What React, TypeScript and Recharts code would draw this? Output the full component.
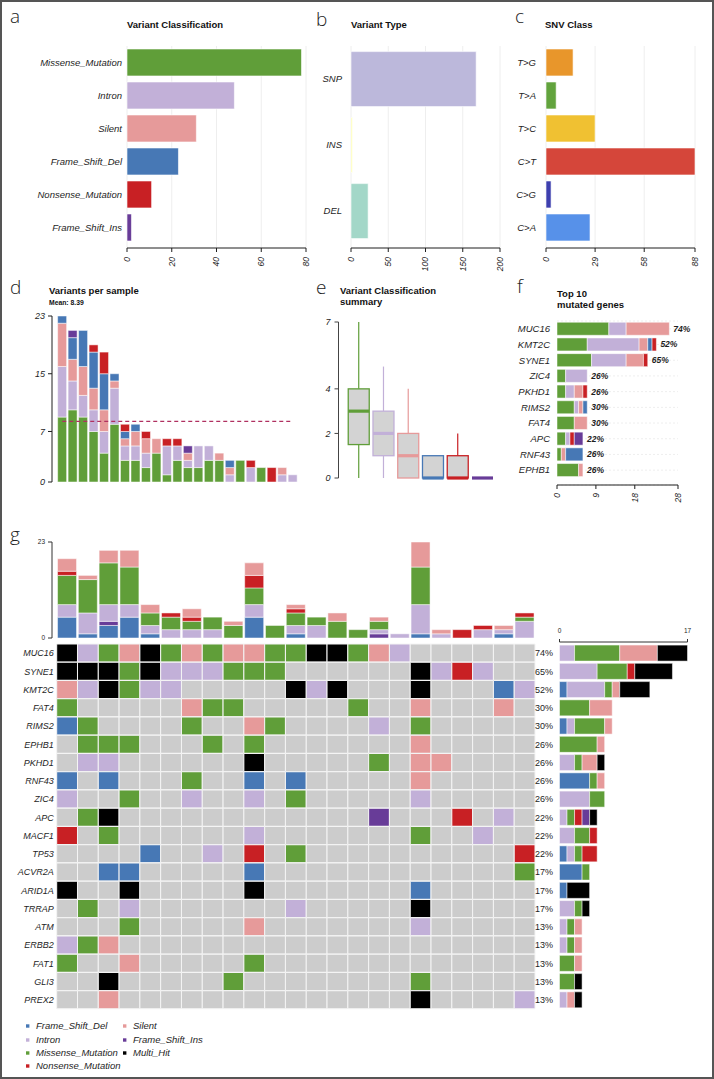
import React from 'react';
import { BarChart, Bar, XAxis, YAxis, Cell, CartesianGrid, ReferenceLine, LabelList } from 'recharts';

const FONT = '"Liberation Sans", Arial, Helvetica, sans-serif';
const INK = '#1e1e1e';

// classification colours (maftools style)
const CLASS_COLORS: Record<string, string> = {
  Frame_Shift_Del: '#4778B5',
  Intron: '#C2B0D8',
  Missense_Mutation: '#609E39',
  Nonsense_Mutation: '#C82024',
  Silent: '#E69A9A',
  Frame_Shift_Ins: '#683C98',
  Multi_Hit: '#000000',
};
const EMPTY_CELL = '#CCCCCC';

// ---- per-sample variant counts (samples in oncoplot column order) ----
const sampleIds = ['S01', 'S02', 'S03', 'S04', 'S05', 'S06', 'S07', 'S08', 'S09', 'S10', 'S11', 'S12',
  'S13', 'S14', 'S15', 'S16', 'S17', 'S18', 'S19', 'S20', 'S21', 'S22', 'S23'];
const frameShiftDel = [5, 1, 3, 5, 1, 0, 0, 0, 0, 5, 0, 1, 0, 0, 0, 0, 0, 1, 0, 0, 0, 1, 0];
const frameShiftIns = [0, 0, 1, 0, 0, 0, 0, 0, 0, 0, 0, 0, 0, 0, 0, 1, 0, 0, 0, 0, 0, 0, 0];
const intron = [3, 5, 4, 3, 2, 2, 2, 2, 0, 3, 0, 2, 3, 0, 0, 1, 1, 7, 1, 0, 2, 1, 4];
const missense = [7, 8, 10, 9, 3, 3, 2, 3, 3, 4, 3, 3, 2, 4, 2, 2, 0, 9, 0, 0, 0, 0, 1];
const nonsense = [1, 0, 0, 0, 0, 1, 1, 0, 0, 3, 0, 1, 0, 0, 0, 0, 0, 0, 0, 2, 1, 0, 1];
const silent = [3, 1, 3, 4, 2, 0, 2, 0, 1, 3, 0, 1, 0, 2, 0, 1, 0, 6, 1, 0, 0, 1, 0];

// sample order of the "Variants per sample" panel
const perSampleOrder = ['S18', 'S03', 'S04', 'S01', 'S10', 'S02', 'S12', 'S05', 'S07', 'S14', 'S23', 'S06',
  'S16', 'S13', 'S08', 'S09', 'S22', 'S11', 'S21', 'S15', 'S20', 'S19', 'S17'];

// ---- variant type / SNV class ----
const variantTypes = ['SNP', 'INS', 'DEL'];
const variantTypeCounts = [168, 2, 23];
const variantTypeColors = ['#BCB8DB', '#FFFFB3', '#A3D7C8'];

const snvClasses = ['T>G', 'T>A', 'T>C', 'C>T', 'C>G', 'C>A'];
const snvCounts = [16, 6, 29, 88, 3, 26];
const snvColors = ['#E8962B', '#62A33D', '#F0C132', '#D5463A', '#3D3FAE', '#5791E9'];

// ---- variant classification summary (box stats) ----
const boxClasses = ['Missense_Mutation', 'Intron', 'Silent', 'Frame_Shift_Del', 'Nonsense_Mutation', 'Frame_Shift_Ins'];
const boxMin = [0, 0, 0, 0, 0, 0];
const boxQ1 = [1.5, 1, 0, 0, 0, 0];
const boxMedian = [3, 2, 1, 0, 0, 0];
const boxQ3 = [4, 3, 2, 1, 1, 0];
const boxMax = [7, 5, 4, 1, 2, 0];

// ---- top 10 mutated genes (variant counts) ----
const topGenes = ['MUC16', 'KMT2C', 'SYNE1', 'ZIC4', 'PKHD1', 'RIMS2', 'FAT4', 'APC', 'RNF43', 'EPHB1'];
const topMissense = [12, 7, 8, 2, 2, 4, 4, 2, 1, 5];
const topIntron = [4, 12, 8, 5, 2, 1, 0, 1, 0, 0];
const topSilent = [10, 2, 4, 0, 2, 1, 3, 0, 1, 1];
const topFrameShiftDel = [0, 1, 0, 0, 0, 1, 0, 0, 4, 0];
const topNonsense = [0, 1, 1, 0, 1, 0, 0, 1, 0, 0];
const topFrameShiftIns = [0, 0, 0, 0, 0, 0, 0, 2, 0, 0];

// ---- oncoplot ----
// B=Frame_Shift_Del L=Intron G=Missense R=Nonsense P=Silent I=Frame_Shift_Ins K=Multi_Hit .=none
const CODE: Record<string, string> = {
  B: 'Frame_Shift_Del', L: 'Intron', G: 'Missense_Mutation', R: 'Nonsense_Mutation',
  P: 'Silent', I: 'Frame_Shift_Ins', K: 'Multi_Hit',
};
const oncoGenes = ['MUC16', 'SYNE1', 'KMT2C', 'FAT4', 'RIMS2', 'EPHB1', 'PKHD1', 'RNF43', 'ZIC4', 'APC',
  'MACF1', 'TP53', 'ACVR2A', 'ARID1A', 'TRRAP', 'ATM', 'ERBB2', 'FAT1', 'GLI3', 'PREX2'];
const oncoRows = [
  'KLGPKGPGPPGGKKGPL......',
  'KKKGKLLLGGG......KLRL..',
  'PLKGLL.....KLK...K...BL',
  'G.....PGG.....G..P...P.',
  'BG....G..PG....L.G.....',
  '.GGG...G.G.......P.....',
  '.LL......K.....G.PP....',
  'B.B...G..B.B.....P.....',
  'L..G..L..L.G.....L.....',
  '.GK............I...R.L.',
  'R.G......L.......G..L..',
  '....B..L.R.G..........R',
  '..BB.....B............G',
  'K..K.....K.......B.....',
  '.G.L.......L.....K.....',
  '...G.....P.......L.....',
  'LGP....................',
  'G..P.....G.............',
  '..K.....G........G.....',
  '..P..............K....L',
];

const legendLeft = ['Frame_Shift_Del', 'Intron', 'Missense_Mutation', 'Nonsense_Mutation'];
const legendRight = ['Silent', 'Frame_Shift_Ins', 'Multi_Hit'];

// ---------------- derived tables ----------------
const sampleData = sampleIds.map((id, i) => ({
  id,
  Frame_Shift_Del: frameShiftDel[i],
  Frame_Shift_Ins: frameShiftIns[i],
  Intron: intron[i],
  Missense_Mutation: missense[i],
  Nonsense_Mutation: nonsense[i],
  Silent: silent[i],
}));
const sum = (a: number[]) => a.reduce((s, v) => s + v, 0);
const totalVariants = sampleData.map((d) =>
  d.Frame_Shift_Del + d.Frame_Shift_Ins + d.Intron + d.Missense_Mutation + d.Nonsense_Mutation + d.Silent);
const meanVariants = sum(totalVariants) / sampleIds.length;

const classTotals = [
  { name: 'Missense_Mutation', value: sum(missense) },
  { name: 'Intron', value: sum(intron) },
  { name: 'Silent', value: sum(silent) },
  { name: 'Frame_Shift_Del', value: sum(frameShiftDel) },
  { name: 'Nonsense_Mutation', value: sum(nonsense) },
  { name: 'Frame_Shift_Ins', value: sum(frameShiftIns) },
].sort((a, b) => b.value - a.value);

const typeData = variantTypes.map((name, i) => ({ name, value: variantTypeCounts[i], color: variantTypeColors[i] }));
const snvData = snvClasses.map((name, i) => ({ name, value: snvCounts[i], color: snvColors[i] }));
const perSampleData = perSampleOrder.map((id) => sampleData.find((d) => d.id === id));

const boxData = boxClasses.map((name, i) => ({
  name, range: [boxMin[i], boxMax[i]], min: boxMin[i], max: boxMax[i],
  q1: boxQ1[i], med: boxMedian[i], q3: boxQ3[i], color: CLASS_COLORS[name],
}));

const mutatedSamples = (gene: string) => {
  const row = oncoRows[oncoGenes.indexOf(gene)];
  return row.split('').filter((c) => c !== '.').length;
};
const pctOf = (gene: string) => `${Math.round((mutatedSamples(gene) / sampleIds.length) * 100)}%`;

const TOP_KEYS = ['Missense_Mutation', 'Intron', 'Silent', 'Frame_Shift_Del', 'Nonsense_Mutation', 'Frame_Shift_Ins'];
const topData = topGenes.map((gene, i) => ({
  gene,
  pct: pctOf(gene),
  Missense_Mutation: topMissense[i],
  Intron: topIntron[i],
  Silent: topSilent[i],
  Frame_Shift_Del: topFrameShiftDel[i],
  Nonsense_Mutation: topNonsense[i],
  Frame_Shift_Ins: topFrameShiftIns[i],
}));
const lastTopKey = (d: any) => TOP_KEYS.filter((k) => d[k] > 0).pop();

const gridData = oncoGenes.map((gene) => {
  const o: any = { gene };
  sampleIds.forEach((s) => { o[s] = 1; });
  return o;
});
const GENE_KEYS = ['Frame_Shift_Del', 'Intron', 'Missense_Mutation', 'Nonsense_Mutation', 'Silent', 'Frame_Shift_Ins', 'Multi_Hit'];
const geneBarData = oncoGenes.map((gene, gi) => {
  const o: any = { gene };
  GENE_KEYS.forEach((k) => { o[k] = 0; });
  oncoRows[gi].split('').forEach((c) => { if (c !== '.') o[CODE[c]] += 1; });
  return o;
});

// ---------------- ticks ----------------
function RotTick(props: any) {
  const { x, y, payload } = props;
  return (
    <text x={x} y={y} transform={`rotate(-90 ${x} ${y})`} textAnchor="end" dy="0.33em"
      fontSize={8.5} fontStyle="italic" fill={INK} fontFamily={FONT}>{payload.value}</text>
  );
}
function CatTick(props: any) {
  const { x, y, payload, fs = 9.5 } = props;
  return (
    <text x={x} y={y} textAnchor="end" dy="0.35em" fontSize={fs} fontStyle="italic" fill={INK} fontFamily={FONT}>
      {payload.value}
    </text>
  );
}
function TinyTick(props: any) {
  const { x, y, payload, anchor = 'middle', dy = 0 } = props;
  return (
    <text x={x} y={y} dy={dy} textAnchor={anchor} fontSize={6.5} fill={INK} fontFamily={FONT}>{payload.value}</text>
  );
}
function PctTick(props: any) {
  const { x, y, payload } = props;
  return (
    <text x={x} y={y} dy="0.35em" textAnchor="end" fontSize={9} fill={INK} fontFamily={FONT}>{pctOf(payload.value)}</text>
  );
}
function PctLabel(props: any) {
  const { value } = props;
  if (!value) return null;
  const vb = props.viewBox || props;
  return (
    <text x={vb.x + vb.width + 4} y={vb.y + vb.height / 2} dy="0.35em" fontSize={8.5} fontWeight="bold"
      fontStyle="italic" fill={INK} fontFamily={FONT}>{value}</text>
  );
}

function BoxShape(props: any) {
  const { x, y, width, height, payload } = props;
  const top = Math.min(y, y + height);
  const bottom = Math.max(y, y + height);
  const lo = payload.min;
  const hi = payload.max;
  const toY = (v: number) => (hi === lo ? bottom : top + ((bottom - top) * (hi - v)) / (hi - lo));
  const c = payload.color;
  const cx = x + width / 2;
  const yq1 = toY(payload.q1);
  const yq3 = toY(payload.q3);
  const ym = toY(payload.med);
  return (
    <g>
      <line x1={cx} x2={cx} y1={toY(hi)} y2={yq3} stroke={c} strokeWidth={1.2} />
      <line x1={cx} x2={cx} y1={yq1} y2={toY(lo)} stroke={c} strokeWidth={1.2} />
      {yq1 - yq3 > 0 && (
        <rect x={x} y={yq3} width={width} height={yq1 - yq3} fill="#D3D3D3" stroke={c} strokeWidth={1.3} />
      )}
      <line x1={x} x2={x + width} y1={ym} y2={ym} stroke={c} strokeWidth={3.2} />
    </g>
  );
}

const at = (left: number, top: number) => ({ position: 'absolute' as const, left, top });

function HBarPanel({ left, width, data, domain, ticks, yWidth, right, labelGap, gap }: any) {
  return (
    <div style={at(left, 0)}>
      <BarChart width={width} height={280} data={data} layout="vertical"
        margin={{ top: 46, right, bottom: 0, left: 0 }} barCategoryGap={gap}>
        <CartesianGrid horizontal={false} stroke="#eeeeee" />
        <XAxis type="number" domain={domain} ticks={ticks} interval={0} height={32} tickSize={4} tickMargin={5}
          stroke={INK} tick={<RotTick />} />
        <YAxis type="category" dataKey="name" width={yWidth} axisLine={false} tickLine={false} tickSize={0}
          tickMargin={labelGap} interval={0} padding={{ top: 0, bottom: 4 }} tick={<CatTick />} />
        <Bar dataKey="value" isAnimationActive={false} stroke="#fff" strokeWidth={0.6}>
          {data.map((d: any) => <Cell key={d.name} fill={d.color || CLASS_COLORS[d.name]} />)}
        </Bar>
      </BarChart>
    </div>
  );
}

function PerSamplePanel() {
  const keys = ['Missense_Mutation', 'Intron', 'Silent', 'Frame_Shift_Del', 'Nonsense_Mutation', 'Frame_Shift_Ins'];
  return (
    <div style={at(0, 283)}>
      <BarChart width={310} height={210} data={perSampleData} margin={{ top: 33, right: 12, bottom: 11, left: 0 }}
        barCategoryGap="6%">
        <XAxis dataKey="id" hide padding={{ left: 5, right: 0 }} />
        <YAxis type="number" domain={[0, 23]} ticks={[0, 7, 15, 23]} interval={0} width={52} tickSize={4}
          tickMargin={3} stroke={INK} tick={<CatTick fs={9} />} />
        {keys.map((k) => (
          <Bar key={k} dataKey={k} stackId="v" fill={CLASS_COLORS[k]} stroke="#fff" strokeWidth={0.5}
            isAnimationActive={false} />
        ))}
        <ReferenceLine stroke="#B03060" strokeDasharray="4 3" strokeWidth={1.2}
          segment={[{ x: perSampleOrder[0], y: meanVariants }, { x: perSampleOrder[perSampleOrder.length - 1], y: meanVariants }]} />
      </BarChart>
    </div>
  );
}

function SummaryPanel() {
  return (
    <div style={at(310, 283)}>
      <BarChart width={200} height={210} data={boxData} margin={{ top: 39, right: 15, bottom: 15, left: 0 }}
        barCategoryGap="7%">
        <XAxis dataKey="name" hide padding={{ left: 8, right: 0 }} />
        <YAxis type="number" domain={[0, 7]} ticks={[0, 2, 4, 7]} interval={0} width={28.5} tickSize={4}
          tickMargin={4} stroke="#444" tick={<CatTick fs={9} />} />
        <Bar dataKey="range" isAnimationActive={false} shape={<BoxShape />} />
      </BarChart>
    </div>
  );
}

function TopGenesPanel() {
  return (
    <div style={at(510, 283)}>
      <BarChart width={204} height={225} data={topData} layout="vertical"
        margin={{ top: 38, right: 36, bottom: 5, left: 0 }} barCategoryGap="8%">
        <CartesianGrid vertical={false} stroke="#eeeeee" strokeDasharray="2 2" />
        <XAxis type="number" domain={[0, 28]} ticks={[0, 9, 18, 28]} interval={0} height={18} tickSize={4}
          tickMargin={4} stroke={INK} tick={<RotTick />} />
        <YAxis type="category" dataKey="gene" width={47} axisLine={false} tickLine={false} tickSize={0}
          tickMargin={7} interval={0} padding={{ top: 0, bottom: 7 }} tick={<CatTick fs={9.5} />} />
        {TOP_KEYS.map((k) => (
          <Bar key={k} dataKey={k} stackId="t" fill={CLASS_COLORS[k]} stroke="#fff" strokeWidth={0.5}
            isAnimationActive={false}>
            <LabelList dataKey={(d: any) => (lastTopKey(d) === k ? d.pct : '')} content={<PctLabel />} />
          </Bar>
        ))}
      </BarChart>
    </div>
  );
}

function OncoTopBars() {
  const keys = ['Frame_Shift_Del', 'Frame_Shift_Ins', 'Intron', 'Missense_Mutation', 'Nonsense_Mutation', 'Silent'];
  return (
    <div style={at(0, 530)}>
      <BarChart width={545} height={112} data={sampleData} margin={{ top: 12, right: 10, bottom: 4, left: 0 }}
        barCategoryGap="4%">
        <XAxis dataKey="id" hide padding={{ left: 4.7, right: 0 }} />
        <YAxis type="number" domain={[0, 23]} ticks={[0, 23]} interval={0} width={52} tickSize={4} tickMargin={3}
          stroke="#333" tick={<TinyTick anchor="end" dy="0.35em" />} />
        {keys.map((k) => (
          <Bar key={k} dataKey={k} stackId="s" fill={CLASS_COLORS[k]} stroke="#fff" strokeWidth={0.5}
            isAnimationActive={false} />
        ))}
      </BarChart>
    </div>
  );
}

function OncoGrid() {
  return (
    <div style={at(0, 640)}>
      <BarChart width={545} height={375} data={gridData} layout="vertical"
        margin={{ top: 4, right: 10, bottom: 6, left: 0 }} barCategoryGap={0}>
        <XAxis type="number" domain={[0, sampleIds.length]} hide />
        <YAxis type="category" dataKey="gene" width={56.7} axisLine={false} tickLine={false} tickSize={0}
          tickMargin={3} interval={0} tick={<CatTick fs={9} />} />
        {sampleIds.map((s, ci) => (
          <Bar key={s} dataKey={s} stackId="g" isAnimationActive={false} stroke="#f4f4f4" strokeWidth={1}>
            {gridData.map((row: any, gi: number) => {
              const c = oncoRows[gi][ci];
              return <Cell key={row.gene} fill={c === '.' ? EMPTY_CELL : CLASS_COLORS[CODE[c]]} />;
            })}
          </Bar>
        ))}
      </BarChart>
    </div>
  );
}

function OncoGeneBars() {
  return (
    <div style={at(510, 620)}>
      <BarChart width={204} height={395} data={geneBarData} layout="vertical"
        margin={{ top: 0, right: 26.5, bottom: 6, left: 0 }} barCategoryGap="6%">
        <XAxis type="number" orientation="top" domain={[0, 17]} ticks={[0, 17]} interval={0} height={22}
          tickSize={3} tickMargin={2} stroke="#333" tick={<TinyTick dy={-4} />} />
        <YAxis type="category" dataKey="gene" width={49.5} axisLine={false} tickLine={false} tickSize={0}
          tickMargin={6.5} interval={0} padding={{ top: 2, bottom: 0 }} tick={<PctTick />} />
        {GENE_KEYS.map((k) => (
          <Bar key={k} dataKey={k} stackId="r" fill={CLASS_COLORS[k]} stroke="#fff" strokeWidth={0.5}
            isAnimationActive={false} />
        ))}
      </BarChart>
    </div>
  );
}

function Overlay() {
  const letter = { fontSize: 19, fontWeight: 300, fill: '#222', fontFamily: '"Open Sans", Lato, ' + FONT } as any;
  const title = { fontSize: 9.5, fontWeight: 'bold', fill: '#111', fontFamily: FONT } as any;
  const leg = { fontSize: 9.5, fontStyle: 'italic', fill: INK, fontFamily: FONT } as any;
  const rows = [1026, 1040, 1053, 1066];
  return (
    <svg width={714} height={1079} style={{ position: 'absolute', left: 0, top: 0, pointerEvents: 'none' }}>
      <text x={10} y={23} {...letter}>a</text>
      <text x={316} y={26} {...letter}>b</text>
      <text x={515} y={23} {...letter}>c</text>
      <text x={10} y={294} {...letter}>d</text>
      <text x={316} y={294} {...letter}>e</text>
      <text x={517} y={293} {...letter}>f</text>
      <text x={10} y={541} {...letter}>g</text>

      <text x={127} y={28} {...title}>Variant Classification</text>
      <text x={351} y={28} {...title}>Variant Type</text>
      <text x={545} y={28} {...title}>SNV Class</text>
      <text x={49} y={294} {...title}>Variants per sample</text>
      <text x={49} y={305} {...title} fontSize={6.8}>{`Mean: ${meanVariants.toFixed(2)}`}</text>
      <text x={340} y={294} {...title}>Variant Classification</text>
      <text x={340} y={305} {...title}>summary</text>
      <text x={557} y={297} {...title}>Top 10</text>
      <text x={557} y={308} {...title}>mutated genes</text>

      {legendLeft.map((k, i) => (
        <g key={k}>
          <rect x={26} y={rows[i] - 1.7} width={3.4} height={3.4} fill={CLASS_COLORS[k]} />
          <text x={36} y={rows[i]} dy="0.35em" {...leg}>{k}</text>
        </g>
      ))}
      {legendRight.map((k, i) => (
        <g key={k}>
          <rect x={123} y={rows[i] - 1.7} width={3.4} height={3.4} fill={CLASS_COLORS[k]} />
          <text x={133} y={rows[i]} dy="0.35em" {...leg}>{k}</text>
        </g>
      ))}
    </svg>
  );
}

export default function App() {
  return (
    <div style={{ position: 'absolute', left: 0, top: 0, width: 714, height: 1079, background: '#fff',
      overflow: 'hidden', fontFamily: FONT }}>
      <HBarPanel left={0} width={312} data={classTotals} domain={[0, 80]} ticks={[0, 20, 40, 60, 80]}
        yWidth={127} right={6} labelGap={5} gap="9%" />
      <HBarPanel left={310} width={200} data={typeData} domain={[0, 200]} ticks={[0, 50, 100, 150, 200]}
        yWidth={41} right={10} labelGap={9} gap="8.5%" />
      <HBarPanel left={510} width={204} data={snvData} domain={[0, 88]} ticks={[0, 29, 58, 88]}
        yWidth={36} right={19} labelGap={10} gap="9%" />
      <PerSamplePanel />
      <SummaryPanel />
      <TopGenesPanel />
      <OncoTopBars />
      <OncoGrid />
      <OncoGeneBars />
      <Overlay />
      <div style={{ position: 'absolute', left: 0, top: 0, width: 714, height: 1079, border: '2px solid #555',
        boxSizing: 'border-box', pointerEvents: 'none' }} />
    </div>
  );
}
